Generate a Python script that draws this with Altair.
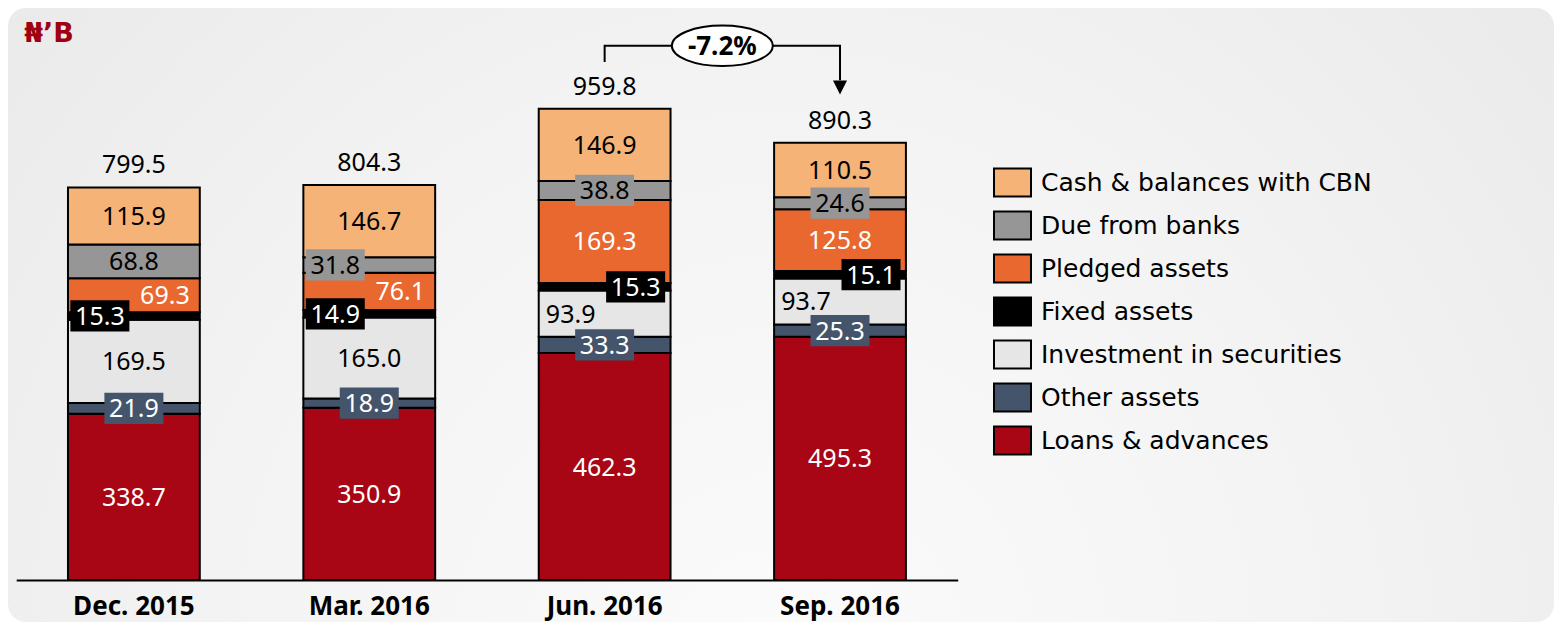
import altair as alt
import pandas as pd

# ---------------- data ----------------
CATS = ["Dec. 2015", "Mar. 2016", "Jun. 2016", "Sep. 2016"]

# stack order, bottom -> top
STACK_ORDER = [
    "Loans & advances",
    "Other assets",
    "Investment in securities",
    "Fixed assets",
    "Pledged assets",
    "Due from banks",
    "Cash & balances with CBN",
]

LOANS = [338.7, 350.9, 462.3, 495.3]
OTHER = [21.9, 18.9, 33.3, 25.3]
INVEST = [169.5, 165.0, 93.9, 93.7]
FIXED = [15.3, 14.9, 15.3, 15.1]
PLEDGED = [69.3, 76.1, 169.3, 125.8]
DUE = [68.8, 31.8, 38.8, 24.6]
CASH = [115.9, 146.7, 146.9, 110.5]
TOTALS = [799.5, 804.3, 959.8, 890.3]

VALUES = {
    "Loans & advances": LOANS,
    "Other assets": OTHER,
    "Investment in securities": INVEST,
    "Fixed assets": FIXED,
    "Pledged assets": PLEDGED,
    "Due from banks": DUE,
    "Cash & balances with CBN": CASH,
}

CHANGE_FROM = "Jun. 2016"
CHANGE_TO = "Sep. 2016"
CHANGE_LABEL = "-7.2%"
UNIT_LABEL = "\u20a6\u2019B"

# ---------------- styles ----------------
LEGEND_ORDER = list(reversed(STACK_ORDER))
COLOR_MAP = {
    "Cash & balances with CBN": "#F5B377",
    "Due from banks": "#969696",
    "Pledged assets": "#E86830",
    "Fixed assets": "#000000",
    "Investment in securities": "#E6E6E6",
    "Other assets": "#44546A",
    "Loans & advances": "#A80515",
}
COLORS = [COLOR_MAP[s] for s in LEGEND_ORDER]
WHITE_TEXT = ["Pledged assets", "Fixed assets", "Other assets", "Loans & advances"]

PLACE = {
    ("Dec. 2015", "Fixed assets"): "l",
    ("Dec. 2015", "Pledged assets"): "r",
    ("Mar. 2016", "Due from banks"): "l",
    ("Mar. 2016", "Fixed assets"): "l",
    ("Mar. 2016", "Pledged assets"): "r",
    ("Jun. 2016", "Fixed assets"): "r",
    ("Jun. 2016", "Investment in securities"): "l",
    ("Sep. 2016", "Fixed assets"): "r",
    ("Sep. 2016", "Investment in securities"): "l",
}
BOXED_SERIES = ["Other assets", "Fixed assets"]
BOXED_EXTRA = [("Mar. 2016", "Due from banks"), ("Jun. 2016", "Due from banks"), ("Sep. 2016", "Due from banks")]
OFFSETS = {"c": 0, "l": -34, "r": 31}

rows = []
for i, s in enumerate(STACK_ORDER):
    for j, c in enumerate(CATS):
        rows.append({
            "cat": c,
            "series": s,
            "value": VALUES[s][j],
            "order": i,
            "pos": PLACE.get((c, s), "c"),
            "box": (s in BOXED_SERIES) or ((c, s) in BOXED_EXTRA),
        })
df = pd.DataFrame(rows)
df_tot = pd.DataFrame({"cat": CATS, "total": TOTALS})

# geometry of plot
PW, PH = 941.5, 572
PAD = {"left": 8.2, "top": 0, "right": 1546 - 8.2 - 941.5, "bottom": 42}
YMAX = 1165
HALF_STEP = PW / 8

X = alt.X("cat:N", sort=CATS,
          scale=alt.Scale(paddingInner=0.44, paddingOuter=0.22),
          axis=alt.Axis(title=None, labelAngle=0, labelFont="Noto Sans",
                        labelFontWeight="bold", labelFontSize=26, labelColor="black",
                        ticks=False, domainColor="black", domainWidth=2,
                        labelPadding=13, zindex=1))
YS = alt.Scale(domain=[0, YMAX], nice=False, zero=True)
CS = alt.Scale(domain=LEGEND_ORDER, range=COLORS)

grad = alt.Gradient(
    gradient="radial",
    stops=[alt.GradientStop(color="#fbfbfb", offset=0),
           alt.GradientStop(color="#f3f3f3", offset=0.5),
           alt.GradientStop(color="#e7e7e7", offset=1)],
    x1=0.5, y1=0.72, x2=0.5, y2=0.72, r1=0, r2=0.75,
)
bg = alt.Chart(pd.DataFrame({"k": [0]})).mark_rect(cornerRadius=18, color=grad).encode(
    x=alt.value(-8.2), x2=alt.value(1537.8), y=alt.value(0), y2=alt.value(614)
)

legend = alt.Legend(
    title=None, orient="none", legendX=976.8, legendY=155,
    symbolType="M-1,-0.757H1V0.757H-1Z", symbolSize=1369,
    symbolStrokeColor="black", symbolStrokeWidth=2, symbolOpacity=1,
    labelFont="DejaVu Sans", labelFontSize=25, labelColor="black",
    labelOffset=9, rowPadding=5, padding=0, labelLimit=0,
)

bars = alt.Chart(df).mark_bar(stroke="black", strokeWidth=2, opacity=1).encode(
    x=X,
    y=alt.Y("value:Q", stack="zero", scale=YS, axis=None),
    color=alt.Color("series:N", scale=CS, legend=legend),
    order=alt.Order("order:Q", sort="ascending"),
)

base_lab = alt.Chart(df).transform_stack(
    stack="value", groupby=["cat"], as_=["y0", "y1"],
    sort=[alt.SortField(field="order", order="ascending")],
).transform_calculate(mid="(datum.y0 + datum.y1) / 2")

label_layers = []
for p, off in OFFSETS.items():
    boxes = base_lab.transform_filter(f"datum.box && datum.pos == '{p}'").mark_point(
        shape="M-1,-0.53H1V0.53H-1Z", size=3481, filled=True, opacity=1,
        strokeWidth=0, xOffset=off,
    ).encode(
        x=X, y=alt.Y("mid:Q", scale=YS, axis=None),
        fill=alt.Fill("series:N", scale=alt.Scale(domain=LEGEND_ORDER, range=COLORS), legend=None),
    )
    texts = base_lab.transform_filter(f"datum.pos == '{p}'").mark_text(
        font="Noto Sans", fontSize=25, baseline="middle", align="center", xOffset=off, dy=1,
    ).encode(
        x=X, y=alt.Y("mid:Q", scale=YS, axis=None),
        text=alt.Text("value:Q", format=".1f"),
        color=alt.condition(alt.FieldOneOfPredicate(field="series", oneOf=WHITE_TEXT),
                            alt.value("white"), alt.value("black")),
    )
    label_layers += [boxes, texts]

totals = alt.Chart(df_tot).mark_text(
    font="Noto Sans", fontSize=25, baseline="middle", align="center", dy=-22, color="black"
).encode(
    x=X, y=alt.Y("total:Q", scale=YS, axis=None), text=alt.Text("total:Q", format=".1f")
)

# change annotation (bracket)
df_br = pd.DataFrame({
    "cat": [CHANGE_FROM, CHANGE_FROM, CHANGE_TO, CHANGE_TO],
    "y": [1055, 1088, 1088, 1018],
    "k": [0, 1, 2, 3],
})
bracket = alt.Chart(df_br).mark_line(color="black", strokeWidth=2).encode(
    x=X, y=alt.Y("y:Q", scale=YS, axis=None), order="k:Q"
)
arrow = alt.Chart(pd.DataFrame({"cat": [CHANGE_TO], "y": [1003]})).mark_point(
    shape="M-1,-1L1,-1L0,1Z", size=196, filled=True, color="black", opacity=1
).encode(x=X, y=alt.Y("y:Q", scale=YS, axis=None))
df_el = pd.DataFrame({"cat": [CHANGE_FROM], "y": [1088], "t": [CHANGE_LABEL]})
ellipse = alt.Chart(df_el).mark_point(
    shape="M-1,0A1,0.4,0,1,1,1,0A1,0.4,0,1,1,-1,0Z", size=10201, filled=True,
    fill="white", stroke="black", strokeWidth=2, opacity=1, xOffset=HALF_STEP,
).encode(x=X, y=alt.Y("y:Q", scale=YS, axis=None))
el_text = alt.Chart(df_el).mark_text(
    font="Noto Sans", fontWeight="bold", fontSize=26, baseline="middle", align="center",
    xOffset=HALF_STEP, dy=1, color="black",
).encode(x=X, y=alt.Y("y:Q", scale=YS, axis=None), text="t:N")

unit = alt.Chart(pd.DataFrame({"k": [0]})).mark_text(
    text=UNIT_LABEL, font="DejaVu Sans", fontWeight="bold", fontSize=27,
    color="#A00010", align="left", baseline="middle",
).encode(x=alt.value(8), y=alt.value(26))

chart = alt.layer(
    bg, bars, *label_layers, totals, bracket, ellipse, el_text, arrow, unit
).properties(
    width=PW, height=PH, padding=PAD, autosize=alt.AutoSizeParams(type="none"),
    background="white",
).configure_view(stroke=None)

chart.save("out.html", embed_options={"renderer": "svg", "actions": False})
